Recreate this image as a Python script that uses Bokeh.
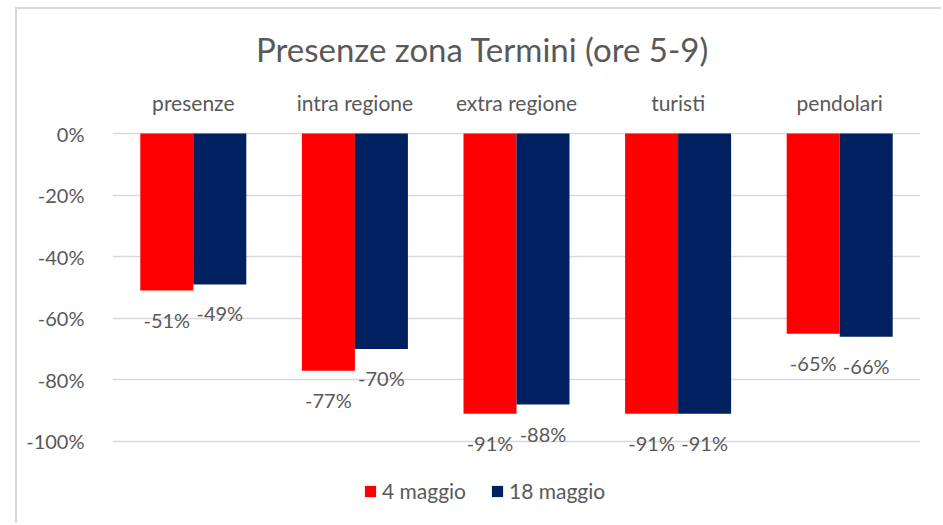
from bokeh.plotting import figure
from bokeh.models import (ColumnDataSource, FactorRange, Range1d, LabelSet, Label,
                          Legend, LegendItem, NumeralTickFormatter, FixedTicker)
from bokeh.transform import dodge
from bokeh.embed import file_html
from bokeh.resources import INLINE
from bokeh.core.properties import value

categories = ["presenze", "intra regione", "extra regione", "turisti", "pendolari"]
series_names = ["4 maggio", "18 maggio"]
maggio_4 = [-0.51, -0.77, -0.91, -0.91, -0.65]
maggio_18 = [-0.49, -0.70, -0.88, -0.91, -0.66]
y_ticks = [0, -0.2, -0.4, -0.6, -0.8, -1.0]
chart_title = "Presenze zona Termini (ore 5-9)"

RED = "#ff0000"
NAVY = "#002060"
TEXT = "#595959"
FONT = "Lato"

src = ColumnDataSource(dict(
    cat=categories,
    a=maggio_4,
    b=maggio_18,
    la=[f"{round(v*100)}%" for v in maggio_4],
    lb=[f"{round(v*100)}%" for v in maggio_18],
))

p = figure(x_range=FactorRange(*categories), y_range=Range1d(-1.2403, 0.3929),
           width=926, height=516, output_backend="svg", toolbar_location=None,
           min_border_left=95, min_border_right=23,
           min_border_top=3, min_border_bottom=10)
p.margin = (7, 0, 0, 15)
p.styles = {"border-top": "2px solid #d9d9d9", "border-left": "2px solid #d9d9d9"}
p.outline_line_color = None
p.background_fill_color = "white"
p.border_fill_color = "white"

off = 0.164
w = 0.328
ra = p.vbar(x=dodge("cat", -off, range=p.x_range), top="a", bottom=0, width=w,
            source=src, fill_color=RED, line_color=None)
rb = p.vbar(x=dodge("cat", off, range=p.x_range), top="b", bottom=0, width=w,
            source=src, fill_color=NAVY, line_color=None)

for col, lab, o in (("a", "la", -off), ("b", "lb", off)):
    ls = LabelSet(x=dodge("cat", o, range=p.x_range), y=col, text=lab, source=src,
                  y_offset=-29, text_align="center", text_baseline="middle",
                  text_font=value(FONT), text_font_size="20px", text_color=TEXT)
    p.add_layout(ls)

# category labels above the bars
p.text(x="cat", y=0.1, text="cat", source=src, text_align="center",
       text_baseline="middle", text_font=value(FONT), text_font_size="21px",
       text_color=TEXT)

# axes
p.xaxis.visible = False
p.xgrid.grid_line_color = None

p.yaxis.ticker = FixedTicker(ticks=y_ticks)
p.yaxis.formatter = NumeralTickFormatter(format="0%")
p.yaxis.axis_line_color = None
p.yaxis.major_tick_line_color = None
p.yaxis.minor_tick_line_color = None
p.yaxis.major_label_text_font = FONT
p.yaxis.major_label_text_font_size = "20px"
p.yaxis.major_label_text_color = TEXT
p.yaxis.major_label_standoff = 22
p.ygrid.grid_line_color = "#d9d9d9"
p.ygrid.grid_line_width = 1.5

# title
title = Label(x=2.29, y=0.276, text=chart_title,
              text_align="center", text_baseline="middle", text_font=FONT,
              text_font_size="33px", text_color=TEXT)
p.add_layout(title)

legend = Legend(items=[LegendItem(label=series_names[0], renderers=[ra]),
                       LegendItem(label=series_names[1], renderers=[rb])],
                orientation="horizontal", location=(251, 12),
                glyph_width=14, glyph_height=14, label_standoff=5, spacing=24,
                padding=0, margin=0, border_line_color=None,
                background_fill_alpha=0,
                label_text_font=FONT, label_text_font_size="21px", label_text_color=TEXT)
p.add_layout(legend, "center")

open("out.html", "w").write(file_html(p, INLINE))
